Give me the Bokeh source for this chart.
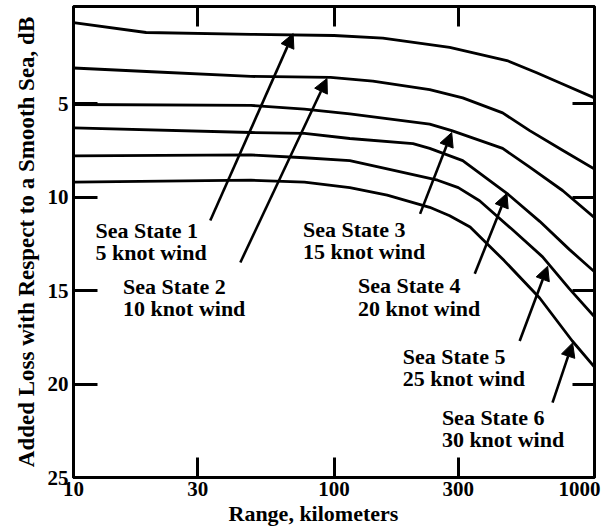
from bokeh.plotting import figure
from bokeh.models import (Range1d, FixedTicker, LinearAxis, LogAxis, Arrow,
                          NormalHead, Label, Title)
from bokeh.embed import file_html
from bokeh.resources import INLINE

# ---- data (range in km, added loss in dB) ----
ss1_range = [10, 19, 48, 100, 154, 278, 461, 600, 754, 1000]
ss1_loss = [0.67, 1.2, 1.3, 1.36, 1.5, 2.0, 2.7, 3.35, 3.95, 4.7]

ss2_range = [10, 20, 48, 97, 141, 233, 312, 444, 564, 754, 1000]
ss2_loss = [3.1, 3.3, 3.55, 3.6, 3.8, 4.25, 4.7, 5.5, 6.45, 7.5, 8.5]

ss3_range = [10, 48, 77, 115, 233, 283, 444, 564, 754, 1000]
ss3_loss = [5.05, 5.1, 5.3, 5.55, 6.1, 6.45, 7.4, 8.4, 9.65, 11.1]

ss4_range = [10, 48, 77, 115, 201, 233, 312, 461, 616, 800, 1000]
ss4_loss = [6.3, 6.55, 6.6, 6.87, 7.14, 7.4, 8.05, 9.8, 11.3, 12.8, 14.0]

ss5_range = [10, 48, 77, 115, 160, 250, 300, 362, 480, 632, 800, 1000]
ss5_loss = [7.8, 7.75, 7.9, 8.05, 8.5, 9.1, 9.5, 10.2, 11.7, 13.2, 14.9, 16.4]

ss6_range = [10, 48, 77, 115, 160, 233, 278, 333, 450, 616, 822, 1000]
ss6_loss = [9.2, 9.1, 9.2, 9.5, 9.9, 10.55, 11.0, 11.6, 13.4, 15.4, 17.7, 19.1]

x_ticks = [10, 30, 100, 300, 1000]
x_tick_labels = ["10", "30", "100", "300", "1000"]
y_ticks = [5, 10, 15, 20, 25]

label_line1 = ["Sea State 1", "Sea State 2", "Sea State 3",
               "Sea State 4", "Sea State 5", "Sea State 6"]
label_line2 = ["5 knot wind", "10 knot wind", "15 knot wind",
               "20 knot wind", "25 knot wind", "30 knot wind"]

# annotation placement (data coords)
label_x = [12.14, 15.5, 76.0, 123.6, 183.7, 259.5]
label_y1 = [11.79, 14.79, 11.74, 14.73, 18.53, 21.79]
label_y2 = [12.97, 15.96, 12.91, 15.96, 19.71, 22.97]
arrow_start = [(33.5, 11.26), (43.7, 13.5), (214, 10.9), (347, 14.1), (516, 17.7), (690, 21.0)]
arrow_end = [(69.7, 1.26), (94, 3.66), (283, 6.55), (461, 9.8), (661, 13.7), (824, 17.8)]
# where the tick labels sit along the range axis (last one pulled inside the page)
x_label_pos = [10, 30, 100, 300, 876]

FONT = "Liberation Serif"

p = figure(width=610, height=530, x_axis_type="log",
           x_range=Range1d(10, 1000), y_range=Range1d(25, -0.19),
           output_backend="svg", toolbar_location=None,
           min_border_left=73, min_border_right=16,
           min_border_top=6, min_border_bottom=53)
p.grid.visible = False
p.outline_line_color = "black"
p.outline_line_width = 3
p.background_fill_color = "white"
p.border_fill_color = "white"

curves = [(ss1_range, ss1_loss), (ss2_range, ss2_loss), (ss3_range, ss3_loss),
          (ss4_range, ss4_loss), (ss5_range, ss5_loss), (ss6_range, ss6_loss)]
for xs, ys in curves:
    p.line(xs, ys, line_color="black", line_width=2.8, line_join="round")

def style_axis(ax, tick_in):
    ax.major_tick_in = tick_in
    ax.major_tick_out = 0
    ax.major_tick_line_width = 3
    ax.major_tick_line_color = "black"
    ax.minor_tick_line_color = None
    ax.axis_line_color = "black"
    ax.axis_line_width = 3
    ax.major_label_text_font = FONT
    ax.major_label_text_font_style = "bold"
    ax.major_label_text_font_size = "21px"
    ax.major_label_text_color = "black"

def hide_labels(ax, ticks):
    ax.major_label_overrides = {t: "" for t in ticks}
    ax.major_label_text_font_size = "1px"
    ax.major_label_standoff = 0

# bottom: tick marks on the frame
xa = p.xaxis[0]
xa.ticker = FixedTicker(ticks=x_ticks)
style_axis(xa, 20)
hide_labels(xa, x_ticks)

# bottom: tick labels
xl = LogAxis(ticker=FixedTicker(ticks=x_label_pos))
style_axis(xl, 0)
xl.axis_line_color = None
xl.major_tick_line_color = None
xl.major_label_overrides = dict(zip(x_label_pos, x_tick_labels))
xl.major_label_standoff = 4
p.add_layout(xl, "below")

ya = p.yaxis[0]
ya.ticker = FixedTicker(ticks=y_ticks)
style_axis(ya, 24)
ya.major_label_standoff = 5
ya.axis_label = "Added Loss with Respect to a Smooth Sea, dB"
ya.axis_label_text_font = FONT
ya.axis_label_text_font_style = "bold"
ya.axis_label_text_font_size = "23px"
ya.axis_label_text_color = "black"
ya.axis_label_standoff = 6

ra = LinearAxis(ticker=FixedTicker(ticks=y_ticks[:-1]))
style_axis(ra, 22)
hide_labels(ra, y_ticks[:-1])
p.add_layout(ra, "right")

ta = LogAxis(ticker=FixedTicker(ticks=x_ticks[1:-1]))
style_axis(ta, 20)
hide_labels(ta, x_ticks[1:-1])
p.add_layout(ta, "above")

# x axis title
p.add_layout(Title(text="Range, kilometers", align="left", offset=155,
                   standoff=0, text_font=FONT, text_font_style="bold",
                   text_font_size="22px", text_color="black"), "below")

for i in range(6):
    for txt, yy in ((label_line1[i], label_y1[i]), (label_line2[i], label_y2[i])):
        p.add_layout(Label(x=label_x[i], y=yy, text=txt, text_align="left",
                           text_baseline="alphabetic", text_font=FONT,
                           text_font_style="bold", text_font_size="22px",
                           text_color="black"))
    (x0, y0), (x1, y1) = arrow_start[i], arrow_end[i]
    p.add_layout(Arrow(x_start=x0, y_start=y0, x_end=x1, y_end=y1,
                       line_color="black", line_width=2.6,
                       end=NormalHead(size=14, fill_color="black",
                                      line_color="black", line_width=1)))

open("out.html", "w").write(file_html(p, INLINE))
